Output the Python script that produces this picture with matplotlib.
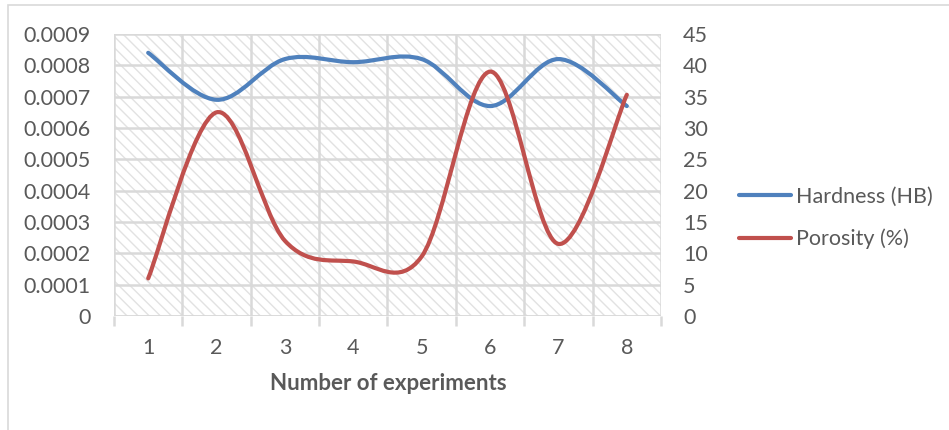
import matplotlib
matplotlib.use("Agg")
import matplotlib.pyplot as plt
import numpy as np
from matplotlib.path import Path
from matplotlib.patches import PathPatch, Rectangle
from matplotlib.lines import Line2D

plt.rcParams['font.family'] = ['Lato', 'DejaVu Sans']
plt.rcParams['hatch.linewidth'] = 1.0

experiments = [1, 2, 3, 4, 5, 6, 7, 8]
hardness = [0.00084, 0.00069, 0.00082, 0.00081, 0.00082, 0.00067, 0.00082, 0.00067]
porosity = [6.0, 32.5, 12.0, 8.7, 9.5, 39.0, 11.5, 35.3]

blue = '#4F81BD'
red = '#C0504D'
grid_c = '#D9D9D9'
text_c = '#595959'


def smooth_path(x, y):
    # Excel-like smoothed line: cubic bezier segments (Catmull-Rom control points)
    x = np.asarray(x, float)
    y = np.asarray(y, float)
    n = len(x)
    verts = [(x[0], y[0])]
    codes = [Path.MOVETO]
    for i in range(n - 1):
        p0 = i - 1 if i > 0 else i
        p3 = i + 2 if i + 2 < n else i + 1
        c1 = (x[i] + (x[i + 1] - x[p0]) / 6, y[i] + (y[i + 1] - y[p0]) / 6)
        c2 = (x[i + 1] - (x[p3] - x[i]) / 6, y[i + 1] - (y[p3] - y[i]) / 6)
        verts += [c1, c2, (x[i + 1], y[i + 1])]
        codes += [Path.CURVE4] * 3
    return Path(verts, codes)


fig = plt.figure(figsize=(9.49, 4.30), dpi=100)
fig.patches.append(Rectangle((8 / 949, -0.1), 1.2, 1.1 - 5 / 430, transform=fig.transFigure,
                             fill=False, edgecolor=grid_c, linewidth=1.2))

ax = fig.add_axes([114 / 949, 114 / 430, 547 / 949, 282 / 430])
ax.set_xlim(0.5, 8.5)
ax.set_ylim(0, 0.0009)
ax.patch.set_alpha(0)
ax.add_patch(Rectangle((0, 0), 1, 1, transform=ax.transAxes, facecolor='white',
                       hatch='\\\\\\', edgecolor='#E2E2E2', linewidth=0, zorder=0))

for s in ax.spines.values():
    s.set_visible(False)

ax.set_yticks(np.arange(0, 0.00091, 0.0001))
ax.set_yticklabels(['0'] + ['%.4f' % v for v in np.arange(0.0001, 0.00091, 0.0001)])
ax.yaxis.grid(True, color=grid_c, linewidth=1.8, zorder=1)
ax.set_xticks(np.arange(0.5, 8.6, 1))
ax.set_xticklabels([])
ax.set_xticks(experiments, minor=True)
ax.set_xticklabels([str(e) for e in experiments], minor=True)
ax.xaxis.grid(True, which='major', color=grid_c, linewidth=1.8, zorder=1)
ax.set_axisbelow(True)
ax.tick_params(axis='x', which='major', length=7, width=1.8, color=grid_c)
ax.tick_params(axis='x', which='minor', length=0, pad=16, labelsize=15.5, labelcolor=text_c)
ax.tick_params(axis='y', length=0, pad=17, labelsize=15.5, labelcolor=text_c)
ax.axhline(0, color=grid_c, linewidth=1.8, zorder=1)

ax2 = ax.twinx()
ax2.set_ylim(0, 45)
ax2.set_yticks(np.arange(0, 46, 5))
for s in ax2.spines.values():
    s.set_visible(False)
ax2.tick_params(axis='y', length=0, pad=16, labelsize=15.5, labelcolor=text_c)

ax.add_patch(PathPatch(smooth_path(experiments, hardness), fill=False, edgecolor=blue,
                       linewidth=3, capstyle='round', zorder=3))
ax2.add_patch(PathPatch(smooth_path(experiments, porosity), fill=False, edgecolor=red,
                        linewidth=3, capstyle='round', zorder=3))

fig.text(388 / 949, 1 - 383 / 430, 'Number of experiments', ha='center', va='center',
         fontsize=16, fontweight='bold', color=text_c)

handles = [Line2D([], [], color=blue, linewidth=3, solid_capstyle='round'),
           Line2D([], [], color=red, linewidth=3, solid_capstyle='round')]
fig.legend(handles, ['Hardness (HB)', 'Porosity (%)'], loc='center left',
           bbox_to_anchor=(720 / 949, 1 - 218 / 430), frameon=False, fontsize=15.5,
           labelcolor=text_c, handlelength=2.4, handletextpad=0.25, labelspacing=1.0)

fig.savefig('out.png', dpi=100)
